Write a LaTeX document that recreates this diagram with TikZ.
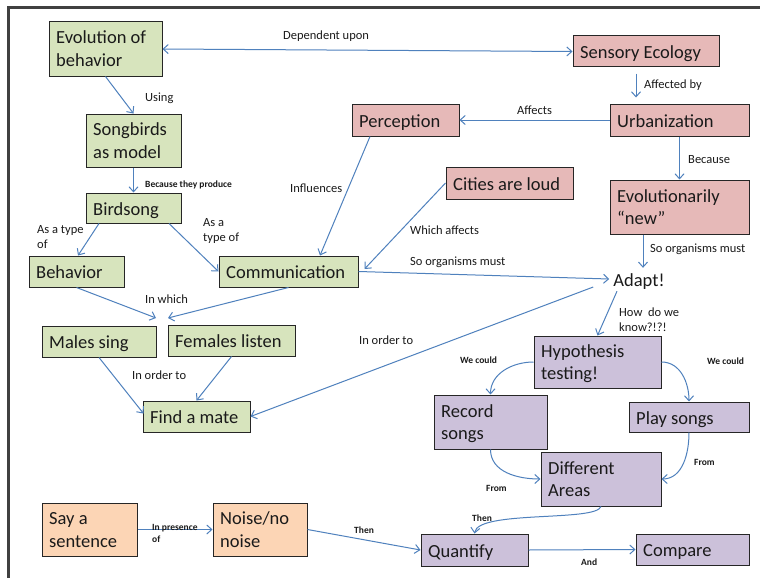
\documentclass[tikz,border=0pt]{standalone}
\usepackage{fontspec}
\setmainfont{Carlito}
\usetikzlibrary{arrows.meta}
\definecolor{gfill}{HTML}{D7E4BD}
\definecolor{pfill}{HTML}{E6B9B8}
\definecolor{vfill}{HTML}{CCC1DA}
\definecolor{ofill}{HTML}{FCD5B5}
\definecolor{lnk}{HTML}{4F81BD}
\definecolor{frm}{HTML}{404040}
\definecolor{ink}{HTML}{1A1A1A}
\tikzset{
  box/.style={draw=black!85, line width=1pt, inner sep=0pt},
  gbox/.style={box, fill=gfill},
  pbox/.style={box, fill=pfill},
  vbox/.style={box, fill=vfill},
  obox/.style={box, fill=ofill},
  one/.style={text height=14pt, text depth=0pt},
  two/.style={text height=35pt, text depth=0pt},
  txt/.style={inner sep=0pt, align=left, text=ink, font=\fontsize{18.5}{22.5}\selectfont},
  lbl/.style={inner sep=0pt, align=left, anchor=west, text=ink, font=\fontsize{12.5}{15}\selectfont},
  slbl/.style={inner sep=0pt, align=left, anchor=west, text=ink, font=\fontsize{9.5}{12}\selectfont\bfseries},
  link/.style={draw=lnk, line width=1pt, -{Straight Barb[length=5pt,width=9pt]}},
}
\newcommand\cbox[8]{%
  \node[#6, minimum width=#4pt, minimum height=#5pt] (#1) at (#2,#3) {};
  \node[txt, #7, anchor=west] (#1-t) at ([xshift=7.5pt]#1.west) {#8};}
\begin{document}
\begin{tikzpicture}[x=1pt,y=-1pt]
\useasboundingbox (0,0) rectangle (760,578);
\fill[white] (0,0) rectangle (760,578);
\fill[frm] (7,6) rectangle (760,9);
\fill[frm] (7,6) rectangle (10,578);

% boxes
\cbox{evo}{105.5}{49}{113}{54}{gbox}{two}{Evolution of\\behavior}
\cbox{sens}{646}{51.5}{146}{31}{pbox}{one}{Sensory Ecology}
\cbox{song}{133.5}{140.5}{95}{53}{gbox}{two}{Songbirds\\as model}
\cbox{perc}{405.5}{120}{107}{32}{pbox}{one}{Perception}
\cbox{urb}{679.5}{120}{139}{32}{pbox}{one}{Urbanization}
\cbox{cities}{509.5}{183}{127}{32}{pbox}{one}{Cities are loud}
\cbox{evnew}{679.5}{207}{139}{54}{pbox}{two}{Evolutionarily\\“new”}
\cbox{bird}{133.5}{208}{95}{30}{gbox}{one}{Birdsong}
\cbox{behav}{76.5}{271.5}{95}{31}{gbox}{one}{Behavior}
\cbox{comm}{288.5}{271.5}{139}{31}{gbox}{one}{Communication}
\cbox{males}{99}{341.5}{114}{31}{gbox}{one}{Males sing}
\cbox{fem}{231.5}{340.5}{127}{31}{gbox}{one}{Females listen}
\cbox{mate}{196.5}{416.5}{107}{31}{gbox}{one}{Find a mate}
\cbox{hyp}{597.5}{362}{127}{52}{vbox}{two}{Hypothesis\\testing!}
\cbox{rec}{490.5}{422}{113}{54}{vbox}{two}{Record\\songs}
\cbox{play}{689}{417}{120}{30}{vbox}{one}{Play songs}
\cbox{diff}{601}{479}{120}{54}{vbox}{two}{Different\\Areas}
\cbox{say}{89.5}{529.5}{95}{53}{obox}{two}{Say a\\sentence}
\cbox{noise}{260}{529.5}{94}{53}{obox}{two}{Noise/no\\noise}
\cbox{quant}{474.5}{550}{107}{32}{vbox}{one}{Quantify}
\cbox{comp}{692.5}{549.5}{113}{31}{vbox}{one}{Compare}
\node[txt, one, inner sep=4pt] (adapt) at (639,279) {Adapt!};

\coordinate (j1) at (156,318);
\coordinate (j2) at (168,318);

% connectors
\draw[link, {Straight Barb[length=5pt,width=9pt]}-{Straight Barb[length=5pt,width=9pt]}] (evo.east) -- (sens.west);
\draw[link] (evo.south) -- (song.north);
\draw[link] (song.south) -- (bird.north);
\draw[link, shorten <=6pt, shorten >=6pt] ([shift={(-10,0)}]sens.south) -- ([shift={(-10,0)}]sens.south |- urb.north);
\draw[link] (urb.west) -- (perc.east);
\draw[link] (urb.south) -- (evnew.north);
\draw[link] ([shift={(-35.5,0)}]perc.south) -- ([shift={(31.5,0)}]comm.north);
\draw[link] (cities.west) -- ([shift={(6,-2.5)}]comm.east);
\draw[link] (comm.east) -- (adapt.west);
\draw[link] ([shift={(-36.5,0)}]evnew.south) -- ([shift={(-36.5,0)}]evnew.south |- adapt.north);
\draw[link] ([shift={(-34.5,0)}]bird.south) -- ([shift={(1.5,0)}]behav.north);
\draw[link] ([shift={(35.5,0)}]bird.south) -- (comm.west);
\draw[link] (behav.south) -- (j1);
\draw[link] (comm.south) -- (j2);
\draw[link] (males.south) -- ([shift={(1,-3)}]mate.west);
\draw[link] (fem.south) -- (mate.north);
\draw[link] ([shift={(-16,8)}]adapt.west) -- (mate.east);
\draw[link] ([shift={(-22,1)}]adapt.south) -- (hyp.north);
\draw[link] (hyp.west) to[out=180,in=90] (rec.north);
\draw[link] (hyp.east) to[out=0,in=90] (play.north);
\draw[link] (rec.south) to[out=-90,in=180] (diff.west);
\draw[link] (play.south) to[out=-90,in=0] (diff.east);
\draw[link] (diff.south) .. controls (596,522) and (478,510) .. (quant.north);
\draw[link] (quant.east) -- (comp.west);
\draw[link] (say.east) -- (noise.west);
\draw[link] (noise.east) -- (quant.west);

% labels
\node[lbl] (l1) at (283,36) {Dependent upon};
\node[lbl] (l2) at (145,98) {Using};
\node[slbl] (l3) at (145,185) {Because they produce};
\node[lbl] (l4) at (644,85) {Affected by};
\node[lbl] (l5) at (517,110) {Affects};
\node[lbl] (l6) at (688,160) {Because};
\node[lbl] (l7) at (290,188) {Influences};
\node[lbl] (l8) at (410,230) {Which affects};
\node[lbl] (l9) at (410,262) {So organisms must};
\node[lbl] (l10) at (650,249) {So organisms must};
\node[lbl] (l11) at (37,237) {As a type\\of};
\node[lbl] (l12) at (203,231) {As a\\type of};
\node[lbl] (l13) at (145,299) {In which};
\node[lbl] (l14) at (132,375) {In order to};
\node[lbl] (l15) at (359,340) {In order to};
\node[lbl] (l16) at (619,320) {How\ \ do we\\know?!?!};
\node[slbl] (l17) at (460,360) {We could};
\node[slbl] (l18) at (707,361) {We could};
\node[slbl] (l19) at (486,488) {From};
\node[slbl] (l20) at (694,462) {From};
\node[slbl] (l21) at (472,518) {Then};
\node[slbl] (l22) at (581,562) {And};
\node[slbl] (l23) at (152,533) {In presence\\of};
\node[slbl] (l24) at (354,530) {Then};
\end{tikzpicture}
\end{document}
